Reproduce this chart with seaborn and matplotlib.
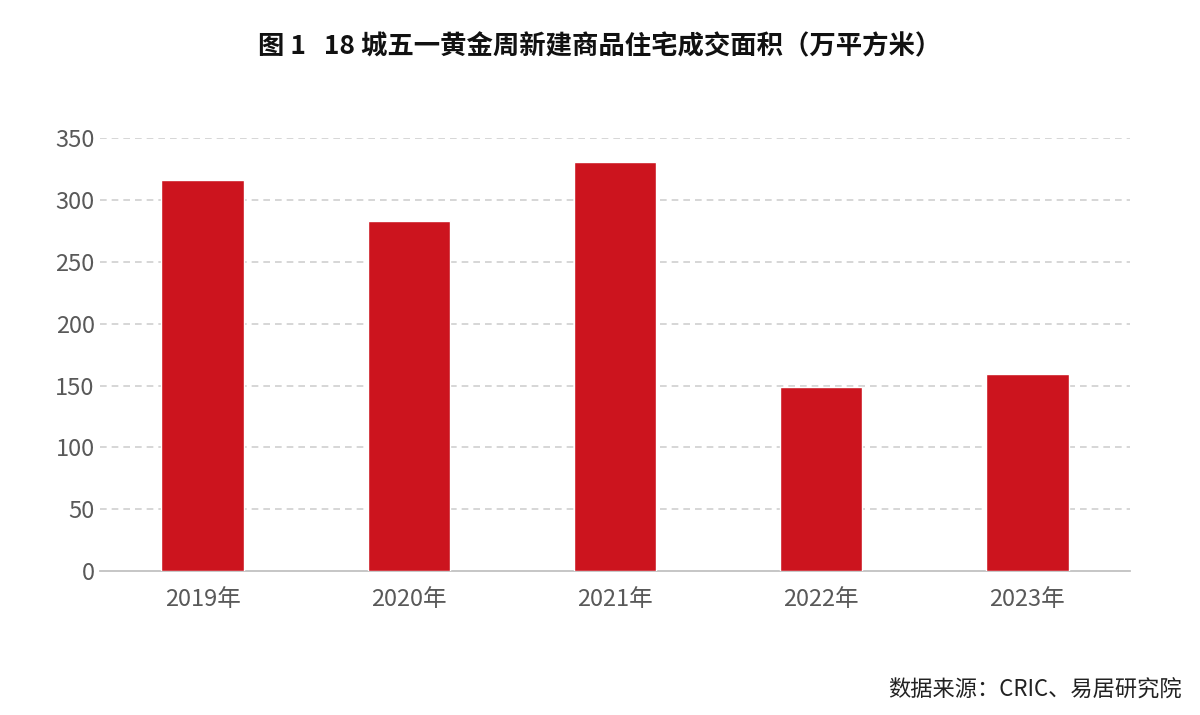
import matplotlib
matplotlib.use("Agg")
import matplotlib.pyplot as plt
import seaborn as sns
import pandas as pd

years = ["2019年", "2020年", "2021年", "2022年", "2023年"]
values = [316, 283, 331, 149, 159]
yticks = [0, 50, 100, 150, 200, 250, 300, 350]

sns.set_theme(style="white")
plt.rcParams['font.family'] = ['Noto Sans CJK SC', 'DejaVu Sans']

fig = plt.figure(figsize=(12, 7.15), dpi=100)
ax = fig.add_axes([0.083, 0.201, 0.859, 0.606])
df = pd.DataFrame({"year": years, "value": values})
sns.barplot(data=df, x="year", y="value", color="#CC141E", saturation=1, width=0.4, ax=ax, zorder=3)
ax.set_ylim(0, 350)
ax.set_yticks(yticks)
ax.set_xlabel("")
ax.set_ylabel("")
for y in yticks[1:]:
    ax.axhline(y, color="#D0D0D0", lw=1.2, ls=(0, (4, 3)), zorder=1)
for s in ["top", "right", "left"]:
    ax.spines[s].set_visible(False)
ax.spines["bottom"].set_color("#BFBFBF")
ax.tick_params(axis="both", labelsize=17, colors="#595959", length=0)
ax.tick_params(axis="x", pad=12)
fig.text(0.5, 0.935, "图 1   18 城五一黄金周新建商品住宅成交面积（万平方米）", ha="center", va="center",
         fontsize=19, fontweight="bold", color="#111111")
fig.text(0.985, 0.035, "数据来源：CRIC、易居研究院", ha="right", va="center", fontsize=16, color="#222222")
fig.savefig("out.png", dpi=100, facecolor="white")
